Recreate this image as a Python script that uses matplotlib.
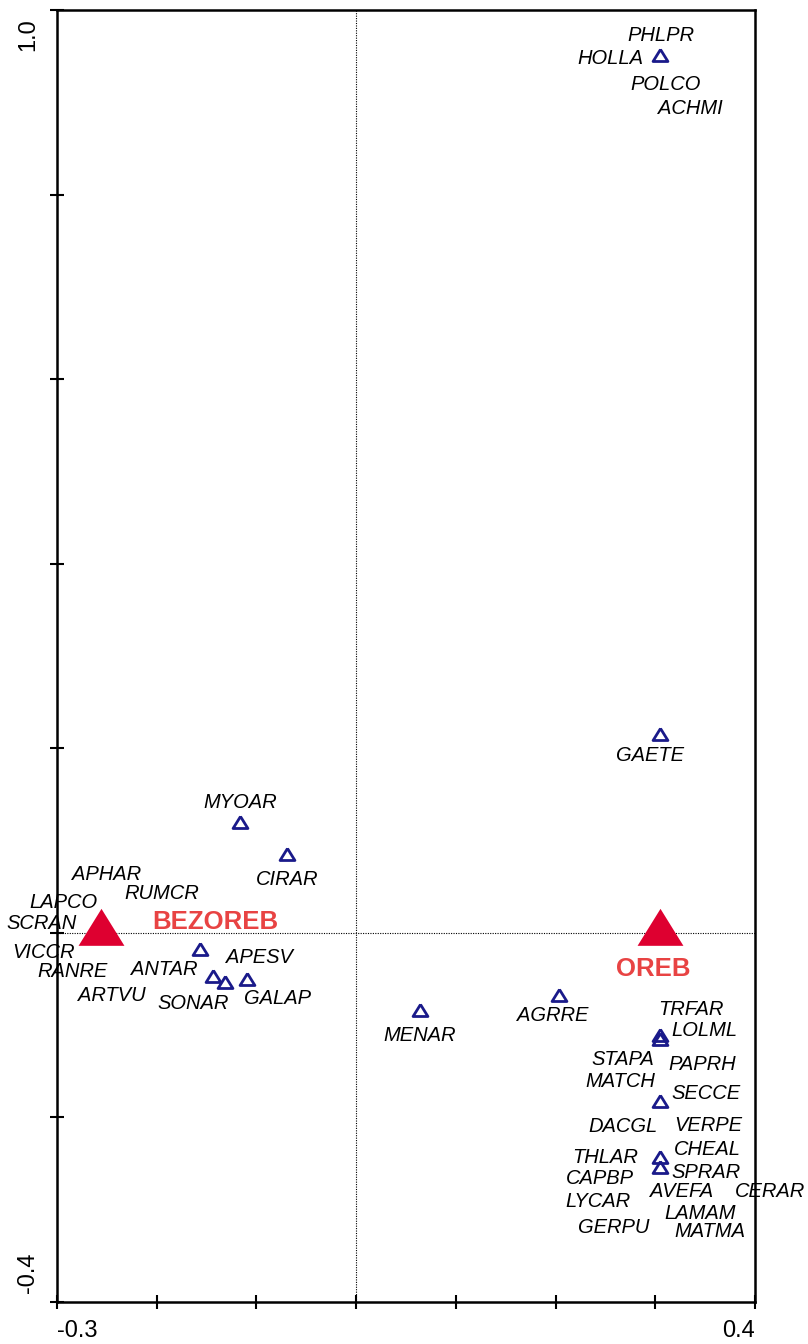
import matplotlib
matplotlib.use('Agg')
import matplotlib.pyplot as plt

plt.rcParams['font.family'] = ['Liberation Sans', 'DejaVu Sans']

# species points (open triangles)
sp_x = [0.305, 0.305, -0.116, -0.069, -0.157, -0.144, -0.132, -0.109,
        0.064, 0.203, 0.305, 0.305, 0.305, 0.305, 0.305]
sp_y = [0.949, 0.213, 0.118, 0.083, -0.020, -0.049, -0.055, -0.052,
        -0.086, -0.070, -0.113, -0.117, -0.184, -0.245, -0.256]

# species labels and where they sit
labels = ['PHLPR', 'HOLLA', 'POLCO', 'ACHMI', 'GAETE', 'MYOAR', 'CIRAR',
          'APHAR', 'RUMCR', 'LAPCO', 'SCRAN', 'VICCR', 'RANRE', 'ANTAR',
          'APESV', 'ARTVU', 'SONAR', 'GALAP', 'MENAR', 'AGRRE',
          'TRFAR', 'LOLML', 'STAPA', 'PAPRH', 'MATCH', 'SECCE', 'DACGL',
          'VERPE', 'THLAR', 'CHEAL', 'CAPBP', 'SPRAR', 'AVEFA', 'CERAR',
          'LYCAR', 'LAMAM', 'GERPU', 'MATMA']
lab_x = [0.306, 0.255, 0.310, 0.335, 0.295, -0.116, -0.069,
         -0.250, -0.195, -0.294, -0.315, -0.314, -0.284, -0.192,
         -0.097, -0.245, -0.163, -0.079, 0.064, 0.197,
         0.336, 0.349, 0.267, 0.347, 0.265, 0.351, 0.268,
         0.353, 0.250, 0.352, 0.244, 0.351, 0.326, 0.415,
         0.242, 0.345, 0.258, 0.355]
lab_y = [0.974, 0.950, 0.921, 0.895, 0.194, 0.143, 0.060,
         0.065, 0.045, 0.035, 0.012, -0.019, -0.040, -0.037,
         -0.025, -0.066, -0.074, -0.069, -0.109, -0.087,
         -0.081, -0.104, -0.135, -0.141, -0.159, -0.172, -0.208,
         -0.207, -0.241, -0.233, -0.264, -0.257, -0.278, -0.278,
         -0.289, -0.302, -0.317, -0.321]

# environmental classes (filled triangles)
env = ['BEZOREB', 'OREB']
env_x = [-0.256, 0.305]
env_y = [0.0, 0.0]
env_lab_x = [-0.141, 0.298]
env_lab_y = [0.014, -0.036]

navy = '#1a1a8a'
red = '#de0030'
red_txt = '#e84343'

# triangle with its centroid on the point
tri = [(0, 1), (-0.93, -0.5), (0.93, -0.5), (0, 1)]

fig = plt.figure(figsize=(8.08, 13.44), dpi=100)
ax = fig.add_axes([57 / 808, 42 / 1344, 698 / 808, 1292 / 1344])
ax.set_xlim(-0.3, 0.4)
ax.set_ylim(-0.4, 1.0)

ax.axhline(0, color='black', lw=0.8, ls=(0, (1, 1.2)), zorder=1)
ax.axvline(0, color='black', lw=0.8, ls=(0, (1, 1.2)), zorder=1)

ax.plot(sp_x, sp_y, ls='none', marker=tri, ms=11.5, mfc='none',
        mec=navy, mew=2.0, zorder=3)
ax.plot(env_x, env_y, ls='none', marker=tri, ms=35.5, mfc=red,
        mec=red, mew=0, zorder=3)

for name, x, y in zip(labels, lab_x, lab_y):
    ax.text(x, y, name, fontsize=14.5, style='italic', ha='center',
            va='center_baseline', color='black', clip_on=False)
for name, x, y in zip(env, env_lab_x, env_lab_y):
    ax.text(x, y, name, fontsize=18.5, weight='bold', ha='center',
            va='center_baseline', color=red_txt)

for s in ax.spines.values():
    s.set_linewidth(1.8)
ax.set_xticks([-0.3, -0.2, -0.1, 0.0, 0.1, 0.2, 0.3, 0.4])
ax.set_yticks([-0.4, -0.2, 0.0, 0.2, 0.4, 0.6, 0.8, 1.0])
ax.tick_params(direction='inout', length=9.5, width=1.5,
               labelbottom=False, labelleft=False)

# only the end values are labelled
ax.annotate('-0.3', xy=(-0.3, 0), xycoords=ax.get_xaxis_transform(),
            xytext=(0, -29), textcoords='offset pixels', ha='left',
            va='center', fontsize=17)
ax.annotate('0.4', xy=(0.4, 0), xycoords=ax.get_xaxis_transform(),
            xytext=(0, -29), textcoords='offset pixels', ha='right',
            va='center', fontsize=17)
ax.annotate('-0.4', xy=(0, -0.4), xycoords=ax.get_yaxis_transform(),
            xytext=(-29, 9), textcoords='offset pixels', ha='center',
            va='bottom', rotation=90, fontsize=17)
ax.annotate('1.0', xy=(0, 1.0), xycoords=ax.get_yaxis_transform(),
            xytext=(-29, -8), textcoords='offset pixels', ha='center',
            va='top', rotation=90, fontsize=17)

fig.savefig('out.png', dpi=100)
